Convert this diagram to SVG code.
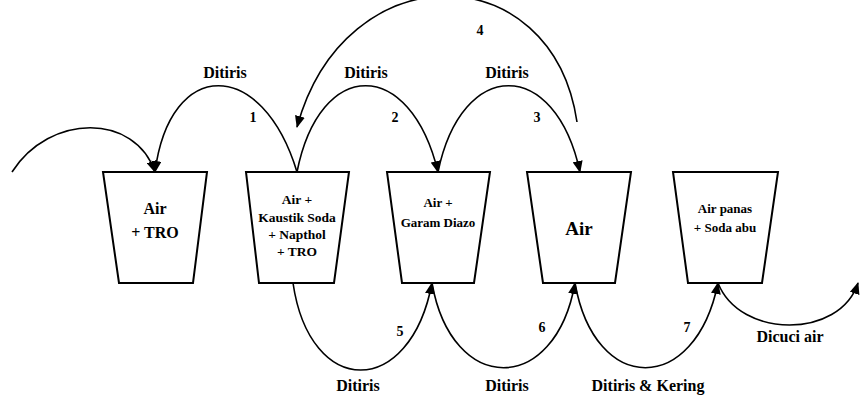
<svg xmlns="http://www.w3.org/2000/svg" width="860" height="400" viewBox="0 0 860 400">
<style>
.box{fill:#fff;stroke:#000;stroke-width:2}
.arc{fill:none;stroke:#000;stroke-width:1.6}
text{font-family:'Liberation Serif','DejaVu Serif',serif;font-weight:bold;fill:#000;text-anchor:middle}
.lbl{font-size:16px}
.num{font-size:14px}
.t{font-size:13px}
.t2{font-size:16px}
</style>
<defs>
<marker id="ah" viewBox="0 0 12 10" refX="11" refY="5" markerWidth="12" markerHeight="10" markerUnits="userSpaceOnUse" orient="auto">
<path d="M0,0 L12,5 L0,10 Z" fill="#000"/>
</marker>
</defs>
<g id="node1">
<polygon class="box" points="103,172 207,172 193,283 119,283"/>
<text class="t2" x="155" y="214">Air</text>
<text class="t2" x="155" y="238">+ TRO</text>
</g>
<g id="node2">
<polygon class="box" points="246,172 349,172 334,283 259,283"/>
<text class="t" x="297" y="204" style="font-size:13.5px">Air +</text>
<text class="t" x="297" y="222" style="font-size:13.5px">Kaustik Soda</text>
<text class="t" x="297" y="239" style="font-size:13.5px">+ Napthol</text>
<text class="t" x="297" y="256" style="font-size:13.5px">+ TRO</text>
</g>
<g id="node3">
<polygon class="box" points="387,172 490,172 474,283 402,283"/>
<text class="t" x="438" y="207">Air +</text>
<text class="t" x="438" y="227">Garam Diazo</text>
</g>
<g id="node4">
<polygon class="box" points="527,172 631,172 615,283 543,283"/>
<text x="579" y="235" style="font-size:19px">Air</text>
</g>
<g id="node5">
<polygon class="box" points="673,172 778,172 762,283 688,283"/>
<text class="t" x="725" y="213">Air panas</text>
<text class="t" x="725" y="232">+ Soda abu</text>
</g>
<g id="connectors">
<path class="arc" d="M12,172 C50,113 135,113 155,172" marker-end="url(#ah)"/>
<path class="arc" d="M297,172 C262,57 170,57 155,172" marker-end="url(#ah)"/>
<path class="arc" d="M297,172 C320,57 410,57 438,172" marker-end="url(#ah)"/>
<path class="arc" d="M438,172 C462,57 555,57 580,172" marker-end="url(#ah)"/>
<path class="arc" d="M577,122 C552,-45 345,-48 297,127" marker-end="url(#ah)"/>
<path class="arc" d="M293,283 C310,399 410,399 432,283" marker-end="url(#ah)"/>
<path class="arc" d="M432,283 C452,396 555,396 575,283" marker-end="url(#ah)"/>
<path class="arc" d="M575,283 C595,396 695,396 718,283" marker-end="url(#ah)"/>
<path class="arc" d="M718,283 C740,339 840,339 858,283" marker-end="url(#ah)"/>
</g>
<g id="labels">
<text class="lbl" x="225" y="78">Ditiris</text>
<text class="lbl" x="366" y="78">Ditiris</text>
<text class="lbl" x="507" y="78">Ditiris</text>
<text class="num" x="253" y="122">1</text>
<text class="num" x="395" y="122">2</text>
<text class="num" x="537" y="122">3</text>
<text class="num" x="480" y="35">4</text>
<text class="num" x="400" y="336">5</text>
<text class="num" x="542" y="332">6</text>
<text class="num" x="687" y="332">7</text>
<text class="lbl" x="358" y="391">Ditiris</text>
<text class="lbl" x="507" y="391">Ditiris</text>
<text class="lbl" x="648" y="391">Ditiris &amp; Kering</text>
<text class="lbl" x="790" y="342">Dicuci air</text>
</g>
</svg>
